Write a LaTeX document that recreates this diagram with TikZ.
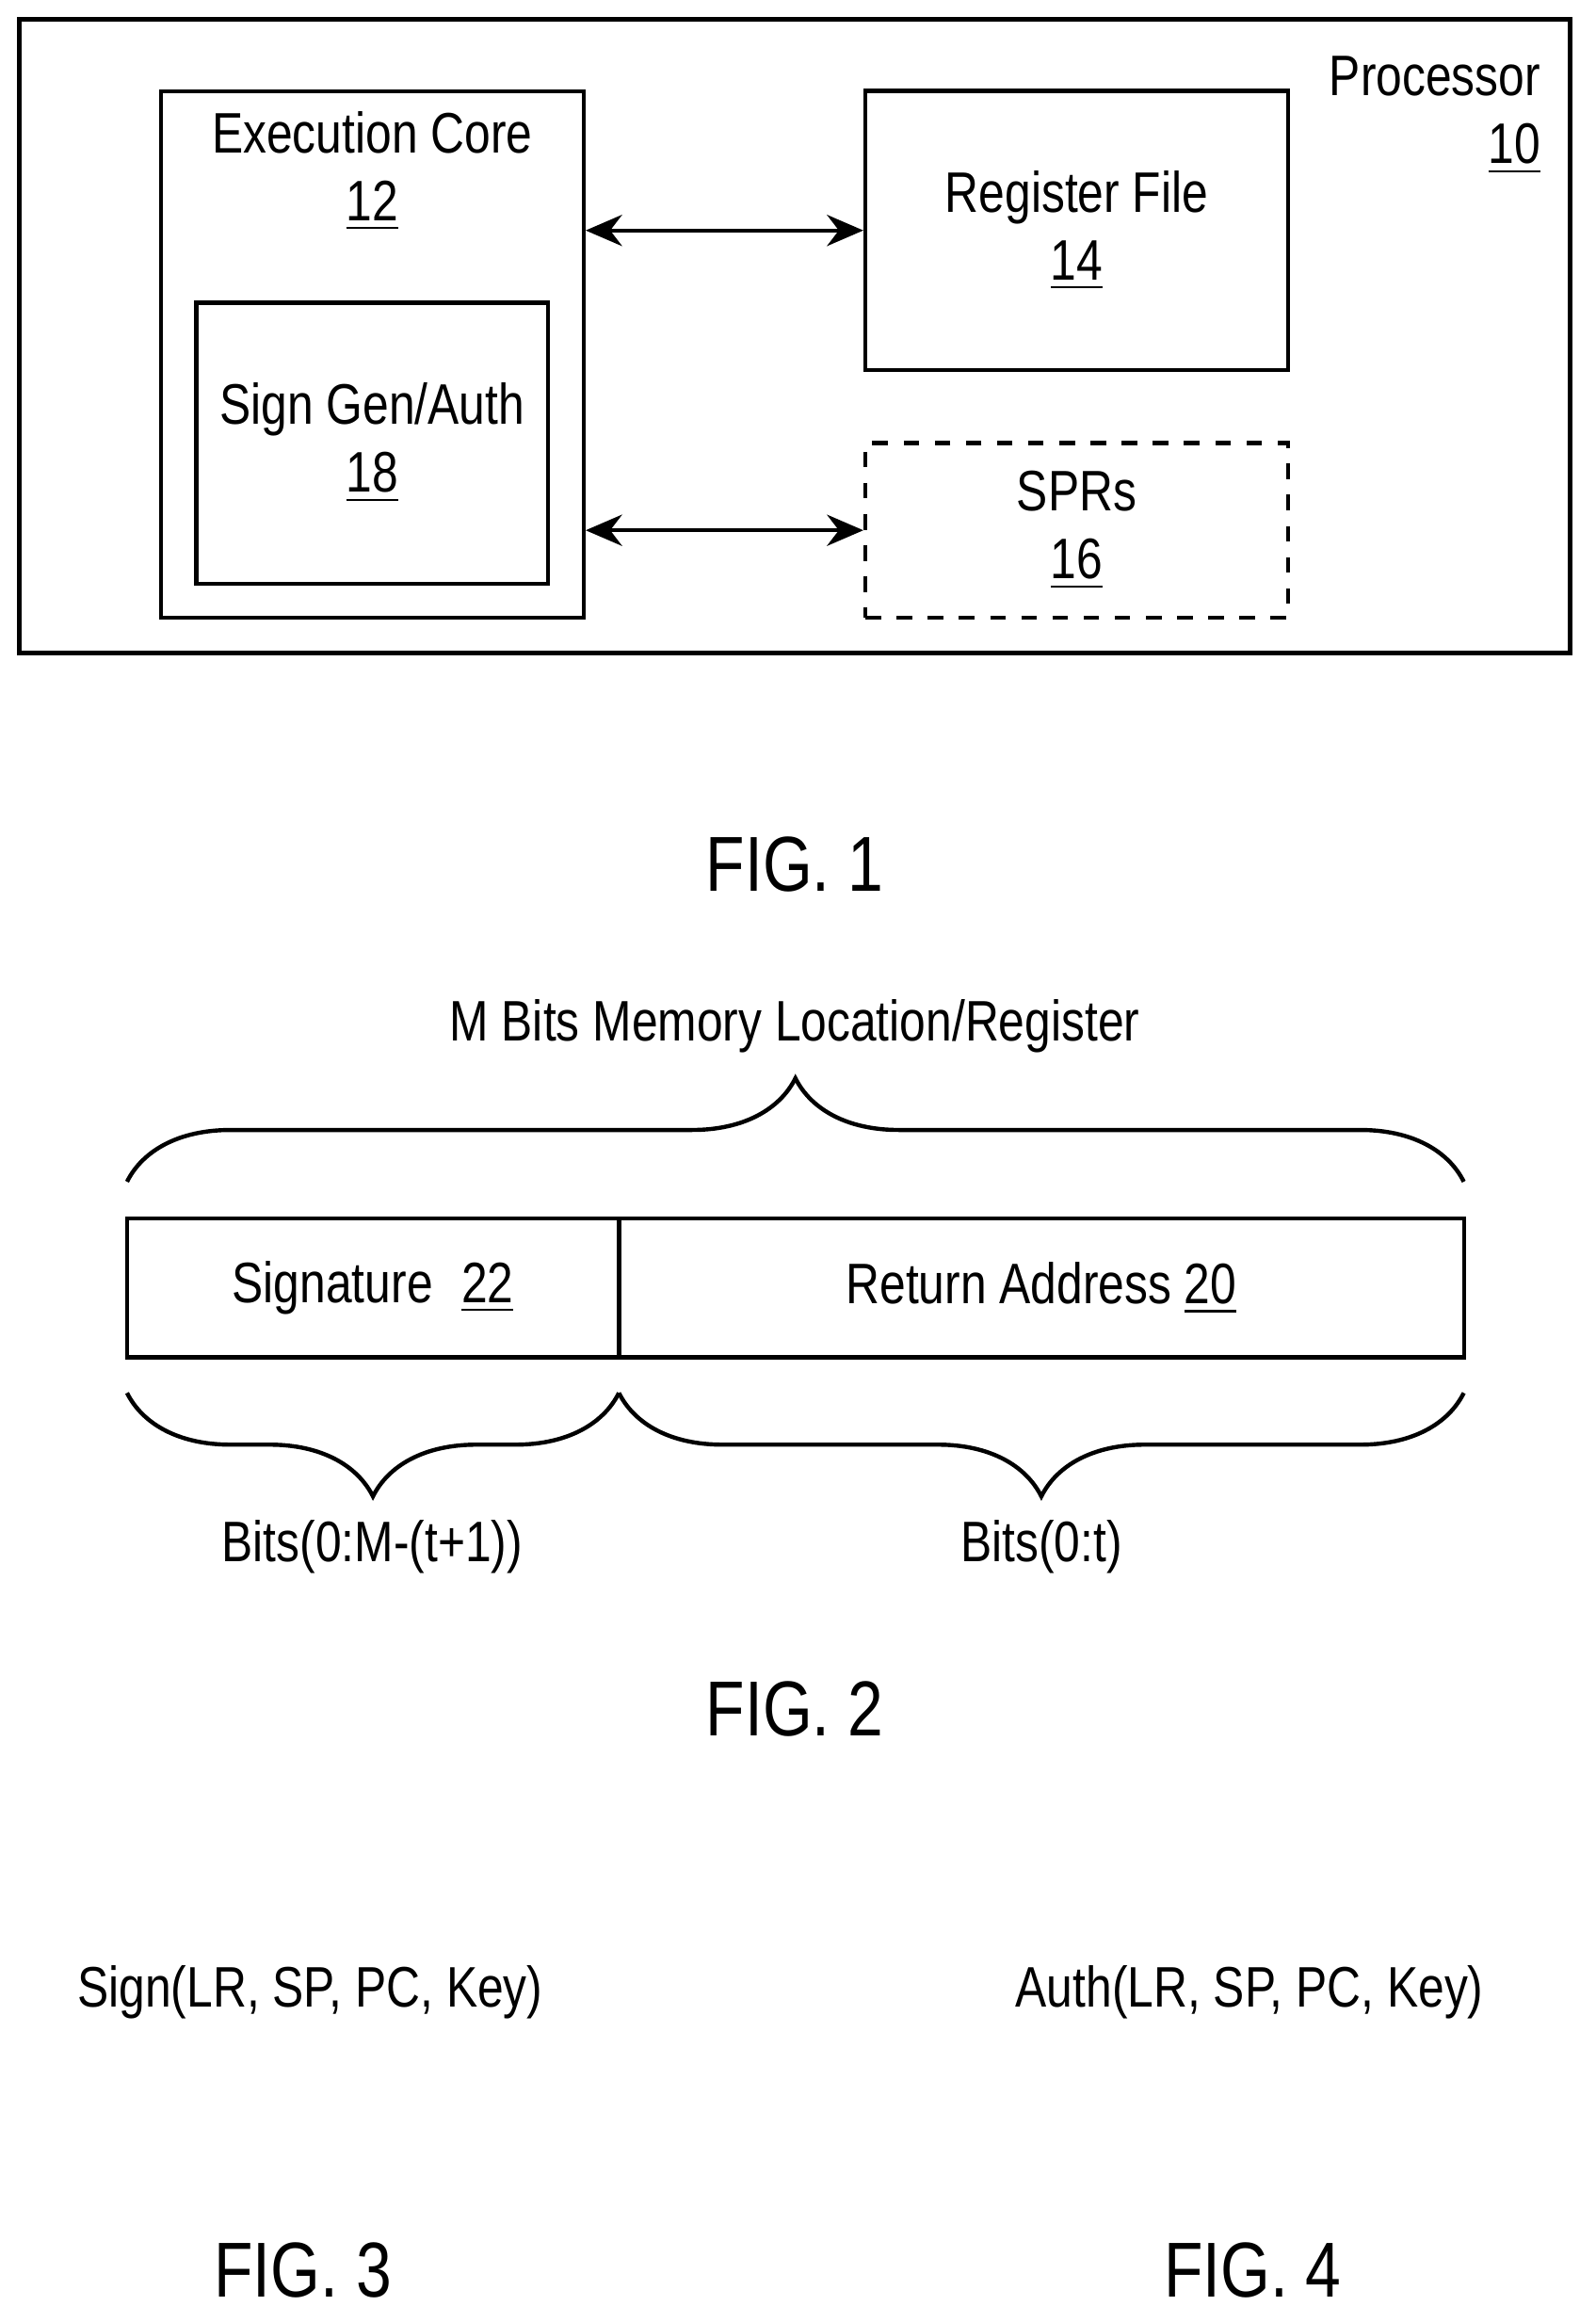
\documentclass[tikz,border=0pt]{standalone}
\usepackage{fontspec}
\setmainfont{Liberation Sans}[FakeStretch=0.82]
\usetikzlibrary{arrows.meta,decorations.pathreplacing}
\begin{document}
\begin{tikzpicture}[x=0.01cm,y=-0.01cm,line width=0.8pt,
                    txt/.style={font=\fontsize{11}{13}\selectfont,align=center},
                    fig/.style={font=\fontsize{15}{17}\selectfont},
                    box/.style={draw},
                    link/.style={<->,>={Stealth[length=7pt,width=6pt]}},
                    brc/.style={decorate,decoration={brace,amplitude=0.7cm}}]
  \useasboundingbox (0,0) rectangle (1080,1572);
  % FIG. 1
  \draw (13,13) rectangle (1063,442);
  \node[txt,anchor=north east,align=right] (proc) at (1056,25) {Processor\\\underline{10}};
  \node[box,minimum width=2.86cm,minimum height=3.56cm] (core) at (252,240) {};
  \node[txt] (corel) at (252,116) {Execution Core\\\underline{12}};
  \node[box,minimum width=2.38cm,minimum height=1.90cm,txt] (sign) at (252,300) {Sign Gen/Auth\\\underline{18}};
  \node[box,minimum width=2.86cm,minimum height=1.89cm,txt] (reg) at (729,156) {Register File\\\underline{14}};
  \node[box,dashed,minimum width=2.86cm,minimum height=1.18cm,txt] (spr) at (729,359) {SPRs\\\underline{16}};
  \draw[link] (core.east |- reg.west) -- (reg.west);
  \draw[link] (core.east |- spr.west) -- (spr.west);
  \node[fig] (f1) at (538,585) {FIG. 1};
  % FIG. 2
  \node[txt] (mbits) at (538,695) {M Bits Memory Location/Register};
  \draw[brc] (86,800) -- (991,800);
  \node[box,minimum width=3.33cm,minimum height=0.94cm,txt] (sig) at (252.5,872) {Signature\enspace\underline{22}};
  \node[box,minimum width=5.72cm,minimum height=0.94cm,txt] (ret) at (705,872) {Return Address \underline{20}};
  \draw[brc,decoration={mirror}] (86,943) -- (419,943);
  \draw[brc,decoration={mirror}] (419,943) -- (991,943);
  \node[txt] (bhi) at (252,1047) {Bits(0:M-(t+1))};
  \node[txt] (blo) at (705,1047) {Bits(0:t)};
  \node[fig] (f2) at (538,1157) {FIG. 2};
  % FIG. 3 and FIG. 4
  \node[txt] (signf) at (210,1349) {Sign(LR, SP, PC, Key)};
  \node[txt] (authf) at (846,1349) {Auth(LR, SP, PC, Key)};
  \node[fig] (f3) at (205,1537) {FIG. 3};
  \node[fig] (f4) at (848,1537) {FIG. 4};
\end{tikzpicture}
\end{document}
